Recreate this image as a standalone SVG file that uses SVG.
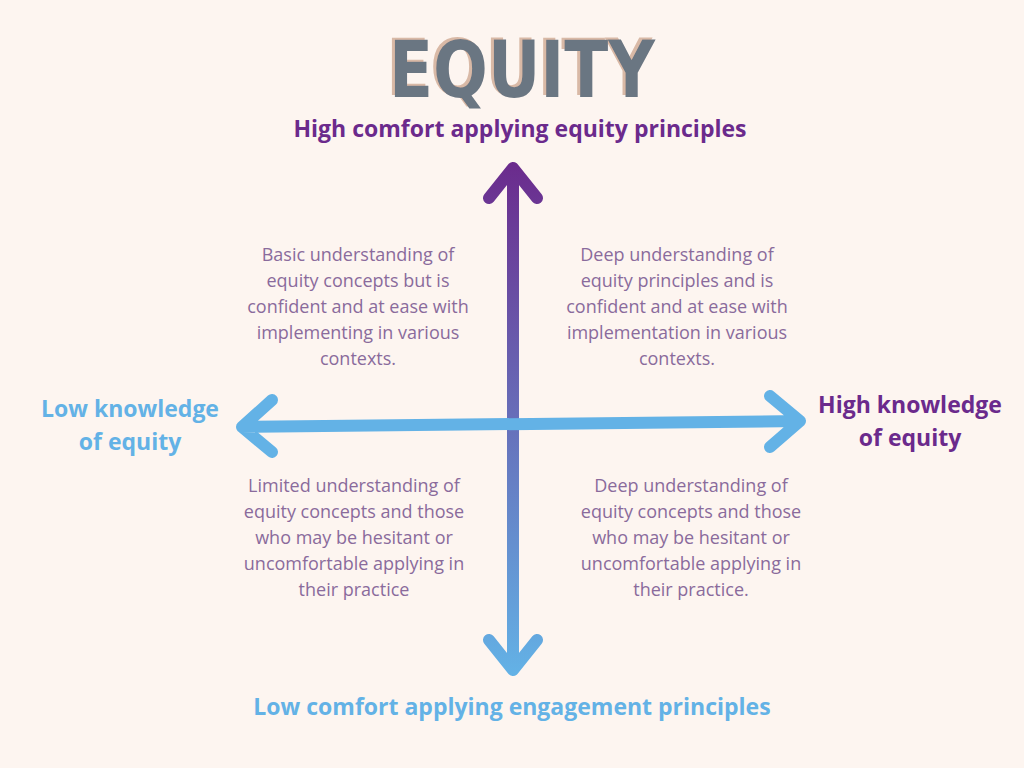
<svg xmlns="http://www.w3.org/2000/svg" width="1024" height="768" viewBox="0 0 1024 768">
<style>
.b{font-family:"Open Sans",sans-serif;font-size:18px;fill:#8a6b9c;text-anchor:middle}
.p{font-family:"Open Sans",sans-serif;font-size:23px;font-weight:bold;fill:#6b2a8c;text-anchor:middle}
.l{font-family:"Open Sans",sans-serif;font-size:23px;font-weight:bold;fill:#63b2e6;text-anchor:middle}
.t{font-family:"DejaVu Sans Condensed","DejaVu Sans",sans-serif;font-size:78px;font-weight:bold;fill:#6b7682}
</style>
<defs>
<linearGradient id="g" x1="0" y1="160" x2="0" y2="675" gradientUnits="userSpaceOnUse">
<stop offset="0" stop-color="#6b2a8c"/><stop offset="1" stop-color="#63b2e6"/>
</linearGradient>
<filter id="sh" x="-10%" y="-20%" width="120%" height="140%">
<feDropShadow dx="-3" dy="-2" stdDeviation="0.6" flood-color="#d9b9a6"/>
</filter>
</defs>
<rect width="1024" height="768" fill="#fdf5f0"/>
<g id="title">
<text class="t" x="389" y="97" textLength="266" lengthAdjust="spacingAndGlyphs" filter="url(#sh)">EQUITY</text>
</g>
<g id="connectors" fill="none" stroke-linecap="round" stroke-linejoin="round" stroke-width="12">
<path d="M513 168 L513 670 M489 198 L513 168 L537 198 M489 640 L513 670 L537 640" stroke="url(#g)"/>
<path d="M242 427 L800 421 M272 400 L242 427 L272 452 M770 396 L800 421 L770 447" stroke="#63b2e6"/>
</g>
<g id="top"><text class="p" x="520" y="137">High comfort applying equity principles</text></g>
<g id="bottom"><text class="l" x="512" y="715">Low comfort applying engagement principles</text></g>
<g id="left"><text class="l" x="130" y="417">Low knowledge</text><text class="l" x="130" y="450">of equity</text></g>
<g id="right"><text class="p" x="910" y="413">High knowledge</text><text class="p" x="910" y="446">of equity</text></g>
<g id="q1"><text class="b" x="358" y="261">Basic understanding of</text><text class="b" x="358" y="287">equity concepts but is</text><text class="b" x="358" y="313">confident and at ease with</text><text class="b" x="358" y="339">implementing in various</text><text class="b" x="358" y="365">contexts.</text></g>
<g id="q2"><text class="b" x="677" y="261">Deep understanding of</text><text class="b" x="677" y="287">equity principles and is</text><text class="b" x="677" y="313">confident and at ease with</text><text class="b" x="677" y="339">implementation in various</text><text class="b" x="677" y="365">contexts.</text></g>
<g id="q3"><text class="b" x="354" y="492">Limited understanding of</text><text class="b" x="354" y="518">equity concepts and those</text><text class="b" x="354" y="544">who may be hesitant or</text><text class="b" x="354" y="570">uncomfortable applying in</text><text class="b" x="354" y="596">their practice</text></g>
<g id="q4"><text class="b" x="691" y="492">Deep understanding of</text><text class="b" x="691" y="518">equity concepts and those</text><text class="b" x="691" y="544">who may be hesitant or</text><text class="b" x="691" y="570">uncomfortable applying in</text><text class="b" x="691" y="596">their practice.</text></g>
</svg>
